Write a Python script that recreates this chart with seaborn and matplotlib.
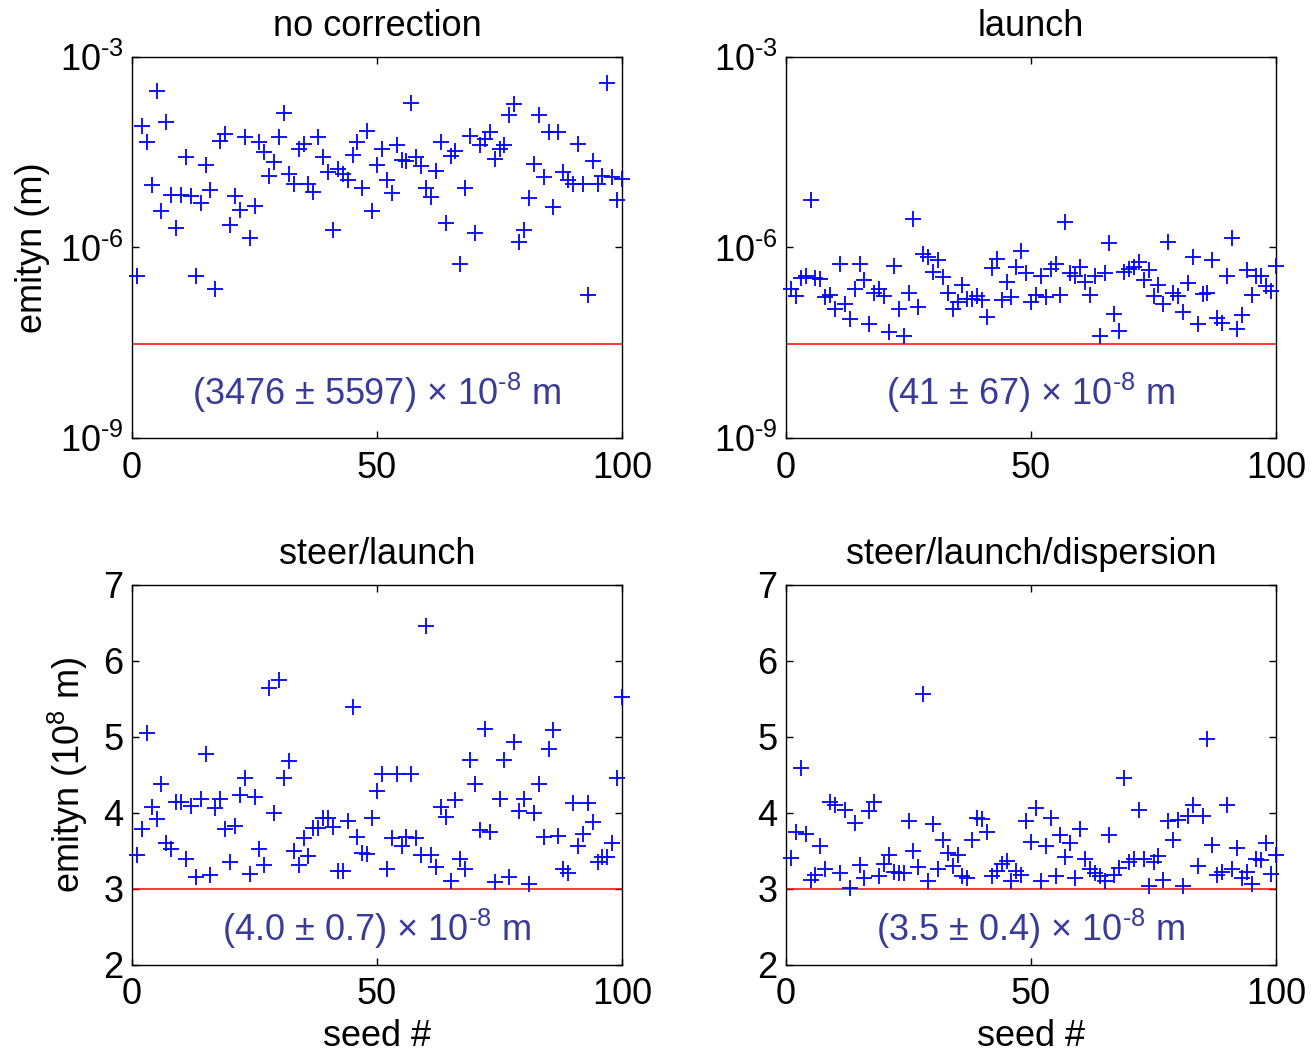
import numpy as np
import pandas as pd
import matplotlib
matplotlib.use("Agg")
import matplotlib.pyplot as plt
from matplotlib.ticker import FixedLocator, NullLocator, FuncFormatter
import seaborn as sns

# Seed index for each of the 100 runs
seeds = np.arange(1, 101)

# Vertical emittance after each correction stage
no_correction = [
    3.5e-7, 8.1e-5, 4.6e-5, 9.5e-6, 2.95e-4, 3.7e-6, 9.5e-5, 6.8e-6, 2.0e-6, 6.8e-6,
    2.7e-5, 6.5e-6, 3.5e-7, 5.0e-6, 2.0e-5, 8.1e-6, 2.2e-7, 4.8e-5, 6.2e-5, 2.3e-6,
    6.5e-6, 3.9e-6, 5.5e-5, 1.4e-6, 4.5e-6, 4.6e-5, 3.2e-5, 1.35e-5, 2.2e-5, 5.5e-5,
    1.3e-4, 1.45e-5, 1.0e-5, 3.5e-5, 4.3e-5, 1.0e-5, 7.4e-6, 5.5e-5, 2.7e-5, 1.55e-5,
    1.9e-6, 1.7e-5, 1.45e-5, 1.15e-5, 2.9e-5, 4.6e-5, 8.7e-6, 6.9e-5, 3.7e-6, 2.0e-5,
    3.5e-5, 1.15e-5, 7.1e-6, 4.1e-5, 2.4e-5, 2.3e-5, 1.9e-4, 2.7e-5, 1.9e-5, 8.7e-6,
    6.3e-6, 1.6e-5, 4.6e-5, 2.4e-6, 2.8e-5, 3.3e-5, 5.5e-7, 8.5e-6, 5.8e-5, 1.7e-6,
    4.1e-5, 5.1e-5, 6.6e-5, 2.5e-5, 3.5e-5, 4.1e-5, 1.2e-4, 1.8e-4, 1.2e-6, 1.9e-6,
    6.0e-6, 2.1e-5, 1.23e-4, 1.3e-5, 6.6e-5, 4.3e-6, 6.6e-5, 1.55e-5, 1.15e-5, 1.0e-5,
    4.3e-5, 1.0e-5, 1.8e-7, 2.3e-5, 1.0e-5, 1.35e-5, 3.9e-4, 1.3e-5, 5.6e-6, 1.2e-5,
]

launch = [
    2.2e-7, 1.7e-7, 3.3e-7, 3.6e-7, 5.6e-6, 3.3e-7, 3.2e-7, 1.66e-7, 1.8e-7, 1.07e-7,
    5.4e-7, 1.3e-7, 7.6e-8, 2.2e-7, 5.4e-7, 3.1e-7, 6.2e-8, 1.95e-7, 2.2e-7, 1.7e-7,
    4.6e-8, 5.2e-7, 1.07e-7, 4.0e-8, 1.95e-7, 2.8e-6, 1.15e-7, 7.8e-7, 7.2e-7, 4.1e-7,
    6.3e-7, 3.4e-7, 1.95e-7, 1.07e-7, 1.4e-7, 2.6e-7, 1.55e-7, 1.55e-7, 1.7e-7, 1.5e-7,
    8.1e-8, 4.8e-7, 6.6e-7, 1.5e-7, 2.9e-7, 1.66e-7, 4.9e-7, 8.9e-7, 4.0e-7, 1.4e-7,
    1.8e-7, 3.5e-7, 1.66e-7, 4.6e-7, 5.5e-7, 1.8e-7, 2.5e-6, 4.0e-7, 3.5e-7, 4.9e-7,
    2.9e-7, 1.8e-7, 3.6e-7, 4.0e-8, 4.0e-7, 1.17e-6, 9.1e-8, 4.8e-8, 4.1e-7, 4.6e-7,
    4.9e-7, 5.9e-7, 3.1e-7, 4.4e-7, 1.74e-7, 2.6e-7, 1.3e-7, 1.23e-6, 1.9e-7, 1.7e-7,
    9.5e-8, 2.75e-7, 7.2e-7, 6.2e-8, 1.86e-7, 1.9e-7, 6.3e-7, 7.8e-8, 6.5e-8, 3.5e-7,
    1.4e-6, 5.2e-8, 8.5e-8, 4.5e-7, 1.8e-7, 3.5e-7, 3.5e-7, 2.5e-7, 2.1e-7, 5.2e-7,
]

# In units of 1e-8 m
steer_launch = [
    3.45, 3.79, 5.05, 4.08, 3.92, 4.38, 3.60, 3.52, 4.15, 4.14,
    3.39, 4.09, 3.16, 4.19, 4.78, 3.18, 4.07, 4.18, 3.79, 3.36,
    3.83, 4.24, 4.46, 3.20, 4.21, 3.52, 3.32, 5.64, 4.00, 5.75,
    4.46, 4.68, 3.50, 3.32, 3.67, 3.43, 3.80, 3.80, 3.93, 3.93,
    3.81, 3.24, 3.24, 3.90, 5.39, 3.68, 3.48, 3.46, 3.93, 4.29,
    4.51, 3.26, 3.67, 4.51, 3.56, 3.68, 4.51, 3.67, 3.45, 6.46,
    3.45, 3.29, 4.08, 3.95, 3.11, 4.17, 3.39, 3.26, 4.70, 4.38,
    3.78, 5.11, 3.75, 3.09, 4.18, 4.70, 3.16, 4.93, 4.02, 4.18,
    3.07, 4.00, 4.38, 3.68, 4.84, 5.09, 3.70, 3.26, 3.21, 4.13,
    3.56, 3.72, 4.13, 3.88, 3.35, 3.42, 3.42, 3.61, 4.46, 5.52,
]

steer_launch_dispersion = [
    3.41, 3.75, 4.59, 3.73, 3.12, 3.18, 3.56, 3.26, 4.15, 4.11,
    3.21, 4.04, 3.01, 3.87, 3.31, 3.14, 4.03, 4.14, 3.17, 3.33,
    3.45, 3.22, 3.21, 3.21, 3.89, 3.50, 3.29, 5.56, 3.11, 3.86,
    3.26, 3.64, 3.48, 3.30, 3.45, 3.17, 3.14, 3.64, 3.94, 3.92,
    3.75, 3.17, 3.24, 3.33, 3.37, 3.11, 3.24, 3.18, 3.89, 3.62,
    4.06, 3.10, 3.56, 3.93, 3.17, 3.71, 3.42, 3.60, 3.15, 3.79,
    3.39, 3.26, 3.21, 3.17, 3.11, 3.71, 3.19, 3.27, 4.46, 3.35,
    3.39, 4.04, 3.39, 3.04, 3.36, 3.43, 3.12, 3.89, 3.65, 3.91,
    3.04, 3.96, 4.11, 3.30, 3.96, 4.97, 3.58, 3.18, 3.23, 4.11,
    3.26, 3.54, 3.14, 3.23, 3.07, 3.40, 3.38, 3.61, 3.20, 3.45,
]

titles = ["no correction", "launch", "steer/launch", "steer/launch/dispersion"]
HY = "\u2010"  # short hyphen for exponents
summaries = [
    "(3476 ± 5597) × 10$^{%s8}$ m" % HY,
    "(41 ± 67) × 10$^{%s8}$ m" % HY,
    "(4.0 ± 0.7) × 10$^{%s8}$ m" % HY,
    "(3.5 ± 0.4) × 10$^{%s8}$ m" % HY,
]
design_log = 3e-8      # design emittance, m
design_lin = 3.0       # design emittance, 1e-8 m
x_ticks = [0, 50, 100]
log_ticks = [1e-9, 1e-6, 1e-3]
lin_ticks = [2, 3, 4, 5, 6, 7]

sns.set_style("ticks")
plt.rcParams["font.family"] = ["Liberation Sans", "DejaVu Sans"]
plt.rcParams["mathtext.fontset"] = "custom"
plt.rcParams["mathtext.rm"] = "Liberation Sans"
plt.rcParams["mathtext.it"] = "Liberation Sans:italic"
plt.rcParams["mathtext.bf"] = "Liberation Sans:bold"
plt.rcParams["text.color"] = "black"
plt.rcParams["axes.labelcolor"] = "black"
plt.rcParams["axes.titlecolor"] = "black"

W, H = 1312, 1052
fig = plt.figure(figsize=(W / 100, H / 100), dpi=100)
fig.patch.set_facecolor("white")


def px_axes(left, top, right, bottom):
    return fig.add_axes([left / W, 1 - bottom / H, (right - left) / W, (bottom - top) / H])


def log_label(v, pos):
    e = int(round(np.log10(v)))
    sign = HY if e < 0 else ""
    return "$10^{%s%d}$" % (sign, abs(e))


axes = [
    px_axes(132, 57, 622, 438),
    px_axes(786, 57, 1276, 438),
    px_axes(132, 585, 622, 965),
    px_axes(786, 585, 1276, 965),
]
series = [no_correction, launch, steer_launch, steer_launch_dispersion]

for i, (ax, vals) in enumerate(zip(axes, series)):
    df = pd.DataFrame({"seed": seeds, "emit": vals})
    ax.set_facecolor("white")
    if i < 2:
        ax.set_yscale("log")
    sns.scatterplot(data=df, x="seed", y="emit", ax=ax, marker="+", s=120,
                    color="#0000ff", linewidth=1.3, clip_on=False, zorder=3)
    ax.axhline(design_log if i < 2 else design_lin, color="#ff0000", lw=1.1, zorder=2)

    ax.set_xlim(0, 100)
    ax.xaxis.set_major_locator(FixedLocator(x_ticks))
    if i < 2:
        ax.set_ylim(1e-9, 1e-3)
        ax.yaxis.set_major_locator(FixedLocator(log_ticks))
        ax.yaxis.set_minor_locator(NullLocator())
        ax.yaxis.set_major_formatter(FuncFormatter(log_label))
        ty = 0.118
    else:
        ax.set_ylim(2, 7)
        ax.yaxis.set_major_locator(FixedLocator(lin_ticks))
        ty = 0.095

    ax.tick_params(axis="both", which="both", direction="in", top=True, right=True,
                   length=5, width=1, color="black", labelsize=26, labelcolor="black")
    ax.tick_params(axis="x", pad=9)
    ax.tick_params(axis="y", pad=6)
    for sp in ax.spines.values():
        sp.set_visible(True)
        sp.set_color("black")
        sp.set_linewidth(1.0)

    ax.set_title(titles[i], fontsize=26, pad=15)
    ax.text(0.5, ty, summaries[i], transform=ax.transAxes, ha="center", va="center",
            fontsize=26, color="#3a3a98")

    ax.set_xlabel("seed #" if i >= 2 else "", fontsize=26, labelpad=5)
    if i == 0:
        ax.set_ylabel("emityn (m)", fontsize=26)
        ax.yaxis.set_label_coords(-0.167, 0.5)
    elif i == 2:
        ax.set_ylabel("emityn (10$^{8}$ m)", fontsize=26)
        ax.yaxis.set_label_coords(-0.086, 0.5)
    else:
        ax.set_ylabel("")

fig.savefig("out.png", dpi=100, facecolor="white")
